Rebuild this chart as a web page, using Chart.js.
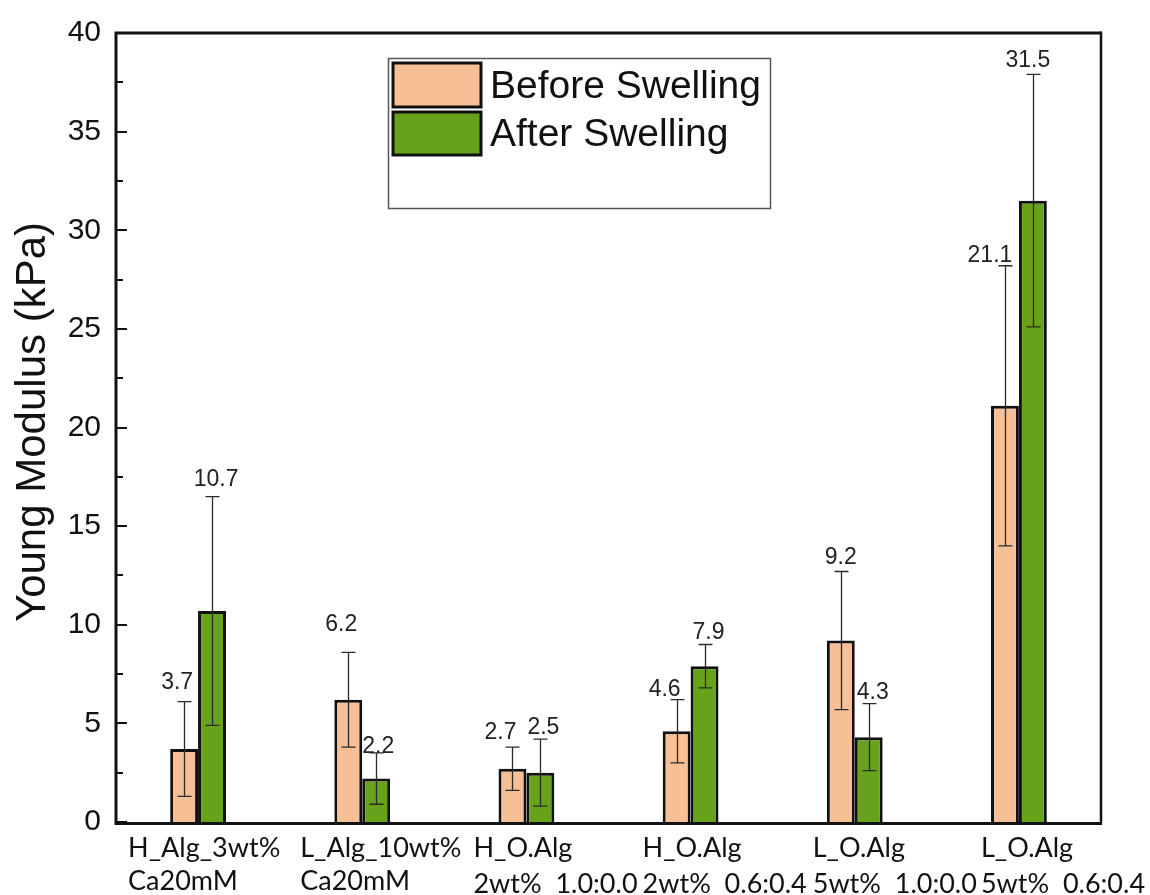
<!DOCTYPE html>
<html>
<head>
<meta charset="utf-8">
<title>Young Modulus before and after swelling</title>
<script src="https://cdn.jsdelivr.net/npm/chart.js@4.4.1/dist/chart.umd.min.js"></script>
<style>
  html, body { margin: 0; padding: 0; background: #ffffff; }
  canvas { display: block; }
</style>
</head>
<body>
<canvas id="chart" width="1150" height="895"></canvas>
<script>
// ---- data ----
const categories = [
  ['H_Alg_3wt%', 'Ca20mM'],
  ['L_Alg_10wt%', 'Ca20mM'],
  ['H_O.Alg', '2wt%  1.0:0.0'],
  ['H_O.Alg', '2wt%  0.6:0.4'],
  ['L_O.Alg', '5wt%  1.0:0.0'],
  ['L_O.Alg', '5wt%  0.6:0.4']
];
const seriesNames = ['Before Swelling', 'After Swelling'];
const beforeValues = [3.7, 6.2, 2.7, 4.6, 9.2, 21.1];
const afterValues  = [10.7, 2.2, 2.5, 7.9, 4.3, 31.5];
const beforeErrors = [2.4, 2.4, 1.1, 1.6, 3.5, 7.1];
const afterErrors  = [5.8, 1.3, 1.7, 1.1, 1.7, 6.4];
const yMin = 0, yMax = 40, yStep = 5;
const yTitle = 'Young Modulus (kPa)';

// ---- styling ----
const seriesColors = ['#F6BF95', '#66A21A'];
const ARIAL = '"Liberation Sans", Arial, sans-serif';
const LABEL_FONT = 'Lato, "Open Sans", sans-serif';
// horizontal shift of each category label's left edge from the category centre
const labelShift = [-70, -62, -53, -48, -42, -38];
const labelLineY = [[848, 881], [848, 881], [848, 884], [848, 884], [848, 884], [848, 884]];
// value-label nudges: [dx from bar centre, gap above the error cap]
const valueNudge = [
  [[-7, 13], [-7, 21], [-12, 8], [-12, 4], [0, 7], [-15, 4]],
  [[4, 11], [2, 0], [3, 5], [4, 5], [4, 5], [-5, 7]]
];

const errors = [beforeErrors, afterErrors];

const decorations = {
  id: 'decorations',
  afterDatasetsDraw(chart) {
    const ctx = chart.ctx;
    const y = chart.scales.y;
    // error bars
    ctx.save();
    ctx.strokeStyle = '#2a2a2a';
    ctx.lineWidth = 1.3;
    chart.data.datasets.forEach((ds, di) => {
      const meta = chart.getDatasetMeta(di);
      meta.data.forEach((bar, i) => {
        const v = ds.data[i], e = errors[di][i];
        const x = Math.round(bar.x) + 0.5;
        const yt = y.getPixelForValue(v + e), yb = y.getPixelForValue(v - e);
        ctx.beginPath();
        ctx.moveTo(x, yt); ctx.lineTo(x, yb);
        ctx.moveTo(x - 7, yt); ctx.lineTo(x + 7, yt);
        ctx.moveTo(x - 7, yb); ctx.lineTo(x + 7, yb);
        ctx.stroke();
      });
    });
    // value labels
    ctx.fillStyle = '#222';
    ctx.font = '23px ' + ARIAL;
    ctx.textAlign = 'center';
    ctx.textBaseline = 'alphabetic';
    chart.data.datasets.forEach((ds, di) => {
      const meta = chart.getDatasetMeta(di);
      meta.data.forEach((bar, i) => {
        const v = ds.data[i], e = errors[di][i];
        const [dx, gap] = valueNudge[di][i];
        ctx.fillText(v.toFixed(1), bar.x + dx, y.getPixelForValue(v + e) - gap);
      });
    });
    ctx.restore();
  },
  afterDraw(chart) {
    const ctx = chart.ctx;
    const a = chart.chartArea;
    const y = chart.scales.y;
    const x = chart.scales.x;
    ctx.save();
    // frame
    ctx.strokeStyle = '#111';
    ctx.lineWidth = 3;
    ctx.beginPath();
    ctx.moveTo(a.left, a.top); ctx.lineTo(a.right, a.top);
    ctx.moveTo(a.left, a.top - 1.5); ctx.lineTo(a.left, a.bottom + 1.5);
    ctx.lineTo(a.right + 1, a.bottom + 1.5);
    ctx.stroke();
    ctx.lineWidth = 2.5;
    ctx.beginPath();
    ctx.moveTo(a.right, a.top - 1.5); ctx.lineTo(a.right, a.bottom + 1.5);
    ctx.stroke();
    // inward ticks on the left axis
    ctx.lineWidth = 2;
    ctx.beginPath();
    for (let v = yMin; v <= yMax; v += yStep / 2) {
      const py = Math.round(y.getPixelForValue(v));
      const len = (v % yStep === 0) ? 11 : 7;
      ctx.moveTo(a.left, py); ctx.lineTo(a.left + len, py);
    }
    ctx.stroke();

    // category labels
    ctx.fillStyle = '#111';
    ctx.font = '27px ' + LABEL_FONT;
    ctx.textAlign = 'left';
    ctx.textBaseline = 'middle';
    chart.data.labels.forEach((lines, i) => {
      const px = x.getPixelForTick(i) + labelShift[i];
      lines.forEach((t, li) => ctx.fillText(t, px, labelLineY[i][li]));
    });

    // axis title
    ctx.save();
    ctx.translate(33, 422);
    ctx.rotate(-Math.PI / 2);
    ctx.font = '42px ' + ARIAL;
    ctx.textAlign = 'center';
    ctx.textBaseline = 'middle';
    ctx.fillText(yTitle, 0, 0);
    ctx.restore();

    // legend
    ctx.strokeStyle = '#555';
    ctx.lineWidth = 1.5;
    ctx.strokeRect(388.5, 58.5, 382, 150);
    const sw = [[393, 63, 88, 44], [393, 112, 88, 43]];
    chart.data.datasets.forEach((ds, di) => {
      const [sx, sy, w, h] = sw[di];
      ctx.fillStyle = ds.backgroundColor;
      ctx.fillRect(sx, sy, w, h);
      ctx.strokeStyle = '#111';
      ctx.lineWidth = 3;
      ctx.strokeRect(sx, sy, w, h);
      ctx.fillStyle = '#111';
      ctx.font = '39px ' + ARIAL;
      ctx.textAlign = 'left';
      ctx.textBaseline = 'middle';
      ctx.fillText(ds.label, 490, sy + h / 2 + 2);
    });
    ctx.restore();
  }
};

new Chart(document.getElementById('chart'), {
  type: 'bar',
  data: {
    labels: categories,
    datasets: [
      { label: seriesNames[0], data: beforeValues, backgroundColor: seriesColors[0],
        borderColor: '#111', borderWidth: 3 },
      { label: seriesNames[1], data: afterValues, backgroundColor: seriesColors[1],
        borderColor: '#111', borderWidth: 3 }
    ]
  },
  options: {
    responsive: false,
    animation: false,
    events: [],
    layout: { padding: { top: 28, right: 49, left: 0, bottom: 0 } },
    datasets: { bar: { categoryPercentage: 0.34, barPercentage: 1.0 } },
    plugins: { legend: { display: false }, tooltip: { enabled: false } },
    scales: {
      x: {
        type: 'category',
        offset: true,
        grid: { display: false, drawTicks: false },
        border: { display: false },
        ticks: { display: false },
        afterFit(s) { s.height = 73; }
      },
      y: {
        min: yMin, max: yMax,
        grid: { display: false, drawTicks: false },
        border: { display: false },
        ticks: {
          stepSize: yStep,
          padding: 15,
          color: '#111',
          font: { family: ARIAL, size: 30 }
        },
        afterFit(s) { s.width = 116; }
      }
    }
  },
  plugins: [decorations]
});
</script>
</body>
</html>
